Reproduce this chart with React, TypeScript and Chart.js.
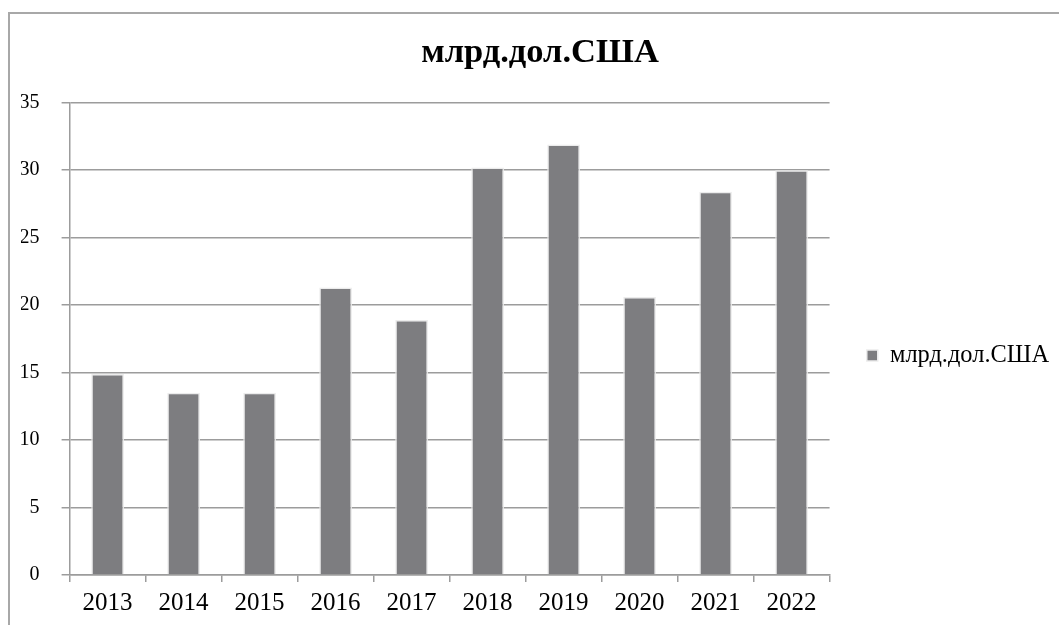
import React, { useEffect, useRef } from "react";
import { Chart, registerables } from "chart.js";

Chart.register(...registerables);

const categories: string[] = ["2013", "2014", "2015", "2016", "2017", "2018", "2019", "2020", "2021", "2022"];
const values: number[] = [14.9, 13.5, 13.5, 21.3, 18.9, 30.2, 31.9, 20.6, 28.4, 30.0];
const seriesName = "млрд.дол.США";
const titleText = "млрд.дол.США";
const yMin = 0;
const yMax = 35;
const yStep = 5;

const FONT = "'Liberation Serif', 'Times New Roman', serif";
const GRID = "#9c9c9c";

export default function App() {
  const ref = useRef<HTMLCanvasElement>(null);

  useEffect(() => {
    const canvas = ref.current;
    if (!canvas) return;

    const legendShift = {
      id: "legendShift",
      afterLayout(chart: any) {
        const lg = chart.legend;
        const ca = chart.chartArea;
        if (!lg || !ca) return;
        const h = lg.bottom - lg.top;
        const c = ca.top + (ca.bottom - ca.top) * 0.535;
        lg.top = c - h / 2;
        lg.bottom = c + h / 2;
      },
    };

    const chart = new Chart(canvas, {
      type: "bar",
      data: {
        labels: categories,
        datasets: [
          {
            label: seriesName,
            data: values,
            backgroundColor: "#7d7d80",
            borderColor: "#ececec",
            borderWidth: 1.5,
            barPercentage: 0.43,
            categoryPercentage: 1,
          },
        ],
      },
      options: {
        responsive: false,
        animation: false,
        layout: { padding: { left: 21, right: 0, top: 0, bottom: 0 } },
        plugins: {
          title: {
            display: true,
            text: titleText,
            color: "#000",
            font: { family: FONT, size: 34.5, weight: "bold", lineHeight: 1.2 },
            padding: { top: 32, bottom: 29.3 },
          },
          legend: {
            display: true,
            position: "right",
            labels: {
              color: "#000",
              font: { family: FONT, size: 24.4 },
              boxWidth: 11,
              boxHeight: 11,
              padding: 37.2,
            },
          },
          tooltip: { enabled: false },
        },
        scales: {
          x: {
            grid: {
              display: true,
              drawOnChartArea: false,
              drawTicks: true,
              tickLength: 7,
              color: GRID,
              lineWidth: 1.5,
            },
            border: { display: true, color: GRID, width: 1.5 },
            ticks: {
              color: "#000",
              font: { family: FONT, size: 25 },
              padding: 6,
              maxRotation: 0,
            },
            afterFit(scale: any) {
              scale.height = 51;
            },
          },
          y: {
            min: yMin,
            max: yMax,
            grid: {
              color: GRID,
              lineWidth: 1.5,
              tickLength: 8,
            },
            border: { display: true, color: GRID, width: 1.5 },
            ticks: {
              stepSize: yStep,
              color: "#000",
              font: { family: FONT, size: 20 },
              padding: 22,
            },
            afterFit(scale: any) {
              scale.width = 48.6;
            },
          },
        },
      },
      plugins: [legendShift],
    });

    return () => chart.destroy();
  }, []);

  return (
    <div style={{ position: "fixed", left: 0, top: 0, width: 1059, height: 626, background: "#fff", overflow: "hidden" }}>
      <div
        style={{
          position: "absolute",
          left: 8,
          top: 12,
          width: 1100,
          height: 611,
          borderLeft: "2px solid #a8a8a8",
          borderTop: "2px solid #a8a8a8",
        }}
      />
      <canvas ref={ref} width={1059} height={626} style={{ position: "absolute", left: 0, top: 0 }} />
    </div>
  );
}
